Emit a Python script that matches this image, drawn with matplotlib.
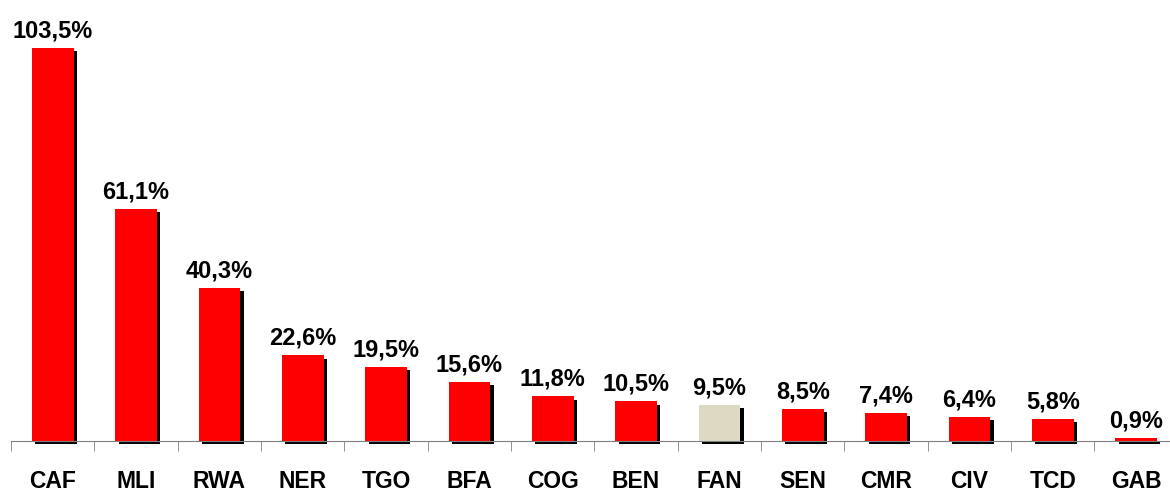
import matplotlib.pyplot as plt
import matplotlib.patheffects as pe
import numpy as np

# données
pays = ['CAF', 'MLI', 'RWA', 'NER', 'TGO', 'BFA', 'COG', 'BEN', 'FAN',
        'SEN', 'CMR', 'CIV', 'TCD', 'GAB']
valeurs = [103.5, 61.1, 40.3, 22.6, 19.5, 15.6, 11.8, 10.5, 9.5,
           8.5, 7.4, 6.4, 5.8, 0.9]
couleurs = ['#FF0000'] * len(pays)
couleurs[pays.index('FAN')] = '#DDD9C3'

plt.rcParams['font.family'] = ['Liberation Sans', 'DejaVu Sans']

fig = plt.figure(figsize=(11.7, 4.93), dpi=100)
ax = fig.add_axes([11 / 1170, 52 / 493, 1166.7 / 1170, 441 / 493])

x = np.arange(len(pays))
barres = ax.bar(x, valeurs, width=0.5, color=couleurs, clip_on=False,
                path_effects=[pe.SimplePatchShadow(offset=(2.5, -2.5),
                                                   shadow_rgbFace='black',
                                                   alpha=1.0),
                              pe.Normal()])

etiquettes = [f"{v:.1f}%".replace('.', ',') for v in valeurs]
ax.bar_label(barres, labels=etiquettes, padding=4, fontsize=17,
             fontweight='bold')

ax.set_xlim(-0.5, len(pays) - 0.5)
ax.set_ylim(0, 441 / 3.8)

ax.set_xticks(x)
ax.set_xticklabels(pays, fontsize=16.5, fontweight='bold')
ax.tick_params(axis='x', which='major', length=0, pad=21)
ax.set_xticks(np.arange(len(pays)) - 0.5, minor=True)
ax.tick_params(axis='x', which='minor', length=7, color='#808080',
               direction='out')
ax.set_yticks([])

for cote in ['top', 'right', 'left']:
    ax.spines[cote].set_visible(False)
ax.spines['bottom'].set_color('#808080')

fig.savefig('out.png', dpi=100)
